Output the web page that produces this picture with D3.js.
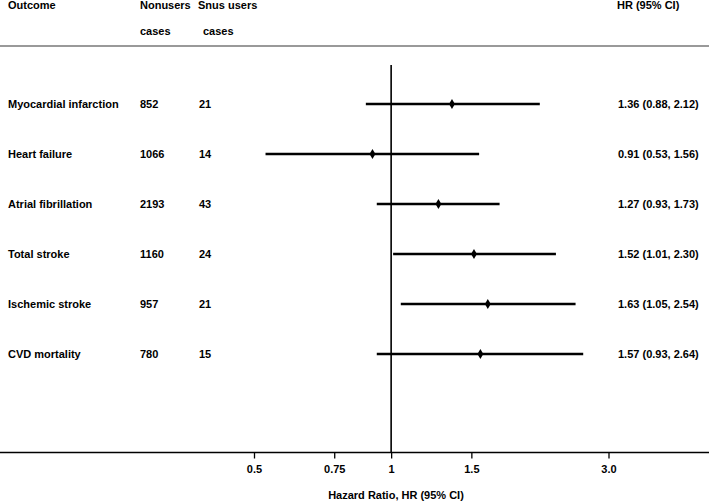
<!DOCTYPE html>
<html lang="en">
<head>
    <meta charset="UTF-8">
    <title>Forest plot - HR</title>
    <script src="https://d3js.org/d3.v7.min.js"></script>
    <style>
        body { margin: 0; background: #fff; }
        text { font-family: "Liberation Sans", Arial, sans-serif; font-weight: bold; font-size: 11px; fill: #000; }
    </style>
</head>
<body>
    <script>
        var width = 709;
        var height = 501;

        // data
        var outcomes = ["Myocardial infarction", "Heart failure", "Atrial fibrillation", "Total stroke", "Ischemic stroke", "CVD mortality"];
        var nonusers = [852, 1066, 2193, 1160, 957, 780];
        var snusUsers = [21, 14, 43, 24, 21, 15];
        var hr = [1.36, 0.91, 1.27, 1.52, 1.63, 1.57];
        var lower = [0.88, 0.53, 0.93, 1.01, 1.05, 0.93];
        var upper = [2.12, 1.56, 1.73, 2.30, 2.54, 2.64];
        var tickValues = [0.5, 0.75, 1, 1.5, 3.0];
        var tickLabels = ["0.5", "0.75", "1", "1.5", "3.0"];

        var rows = outcomes.map((d, i) => ({
            name: d, n0: nonusers[i], n1: snusUsers[i], hr: hr[i], lo: lower[i], hi: upper[i]
        }));

        var svg = d3.select("body").append("svg")
            .attr("width", width)
            .attr("height", height)

        var axisY = 452.5;

        var xScale = d3.scaleLog().domain([0.5, 3]).range([254, 608.5])
        var yScale = d3.scalePoint().domain(outcomes).range([104, 354])

        // header
        var header = svg.append("g")
        header.append("text").attr("x", 8).attr("y", 9).text("Outcome")
        header.append("text").attr("x", 140).attr("y", 9).text("Nonusers")
        header.append("text").attr("x", 140).attr("y", 35).text("cases")
        header.append("text").attr("x", 198).attr("y", 9).text("Snus users")
        header.append("text").attr("x", 203).attr("y", 35).text("cases")
        header.append("text").attr("x", 617).attr("y", 9).text("HR (95% CI)")

        svg.append("line")
            .attr("x1", 0).attr("x2", width)
            .attr("y1", 46).attr("y2", 46)
            .attr("stroke", "#999")
            .attr("stroke-width", 2)

        // reference line at HR = 1
        svg.append("line")
            .attr("x1", xScale(1)).attr("x2", xScale(1))
            .attr("y1", 65).attr("y2", axisY)
            .attr("stroke", "#000")
            .attr("stroke-width", 1.6)

        // x axis
        svg.append("line")
            .attr("x1", 0).attr("x2", width)
            .attr("y1", axisY).attr("y2", axisY)
            .attr("stroke", "#000")
            .attr("stroke-width", 1.6)

        var x_axis = d3.axisBottom(xScale)
            .tickValues(tickValues)
            .tickFormat((d, i) => tickLabels[i])
            .tickSize(6)
            .tickPadding(7)

        var gx = svg.append("g")
            .attr("transform", "translate(0," + axisY + ")")
            .call(x_axis)
        gx.select(".domain").remove()
        gx.selectAll(".tick line").attr("stroke", "#000").attr("stroke-width", 1.3)
        gx.selectAll(".tick text")
            .attr("font-family", null)
            .attr("font-size", null)
            .style("font-family", "'Liberation Sans', Arial, sans-serif")
            .style("font-size", "11px")
            .style("font-weight", "bold")

        svg.append("text")
            .attr("x", 396)
            .attr("y", 499)
            .attr("text-anchor", "middle")
            .text("Hazard Ratio, HR (95% CI)")

        // rows
        var row = svg.selectAll("g.row")
            .data(rows)
            .join("g")
            .attr("class", "row")

        row.append("text").attr("x", 8).attr("y", d => yScale(d.name) + 4).text(d => d.name)
        row.append("text").attr("x", 140).attr("y", d => yScale(d.name) + 4).text(d => d.n0)
        row.append("text").attr("x", 199).attr("y", d => yScale(d.name) + 4).text(d => d.n1)
        row.append("text").attr("x", 618).attr("y", d => yScale(d.name) + 4)
            .text(d => d.hr.toFixed(2) + " (" + d.lo.toFixed(2) + ", " + d.hi.toFixed(2) + ")")

        row.append("line")
            .attr("x1", d => xScale(d.lo))
            .attr("x2", d => xScale(d.hi))
            .attr("y1", d => yScale(d.name))
            .attr("y2", d => yScale(d.name))
            .attr("stroke", "#000")
            .attr("stroke-width", 2.4)

        row.append("path")
            .attr("d", d3.symbol().type(d3.symbolDiamond).size(30))
            .attr("transform", d => "translate(" + xScale(d.hr) + "," + yScale(d.name) + ")")
            .attr("fill", "#000")
    </script>
</body>
</html>
